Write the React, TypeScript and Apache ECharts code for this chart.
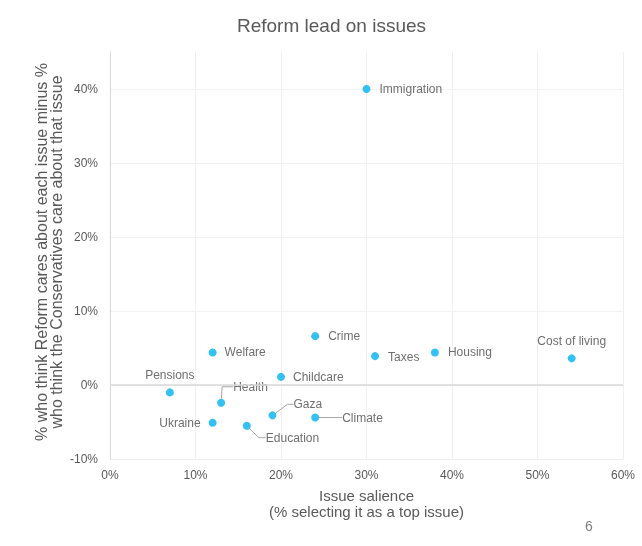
import React, { useEffect, useRef } from "react";
import * as echarts from "echarts";

const title = "Reform lead on issues";
const issues = ["Immigration", "Cost of living", "Housing", "Taxes", "Crime", "Welfare", "Childcare", "Pensions", "Health", "Gaza", "Climate", "Ukraine", "Education"];
const salience = [30, 54, 38, 31, 24, 12, 20, 7, 13, 19, 24, 12, 16];
const lead = [40, 3.6, 4.4, 3.9, 6.6, 4.4, 1.1, -1.0, -2.4, -4.1, -4.4, -5.1, -5.5];
const xTitle = "Issue salience\n(% selecting it as a top issue)";
const yTitle = "% who think Reform cares about each issue minus %\nwho think the Conservatives care about that issue";
const pageNumber = "6";

const FONT = "'Liberation Sans', Arial, sans-serif";

// label placement per issue (style only)
const labelPlace: Record<string, { position: string; distance: number; dx?: number; dy?: number; line?: number }> = {
  Immigration: { position: "right", distance: 9 },
  "Cost of living": { position: "top", distance: 7 },
  Housing: { position: "right", distance: 9 },
  Taxes: { position: "right", distance: 9, dy: 1 },
  Crime: { position: "right", distance: 9 },
  Welfare: { position: "right", distance: 8 },
  Childcare: { position: "right", distance: 8 },
  Pensions: { position: "top", distance: 7 },
  Health: { position: "right", distance: 8, dy: -16, line: 11 },
  Gaza: { position: "right", distance: 8, dx: 9, dy: -11, line: 6 },
  Climate: { position: "right", distance: 8, dx: 15, line: 4 },
  Ukraine: { position: "left", distance: 8 },
  Education: { position: "right", distance: 8, dx: 7, dy: 12, line: 7 },
};

export default function App() {
  const ref = useRef<HTMLDivElement>(null);
  useEffect(() => {
    if (!ref.current) return;
    const chart = echarts.init(ref.current, undefined, { renderer: "svg" });
    const data = issues.map((name, i) => {
      const p = labelPlace[name];
      return {
        name,
        value: [salience[i], lead[i]],
        label: { position: p.position, distance: p.distance },
        labelLine: { show: !!p.line, length2: p.line || 0 },
      };
    });
    chart.setOption({
      animation: false,
      textStyle: { fontFamily: FONT },
      grid: { left: 110, right: 19, top: 52, bottom: 87, containLabel: false },
      xAxis: {
        type: "value",
        min: 0,
        max: 60,
        interval: 10,
        name: xTitle,
        nameLocation: "middle",
        nameGap: 28,
        nameTextStyle: { fontFamily: FONT, fontSize: 15, color: "#595959", lineHeight: 16 },
        axisLine: { show: false },
        axisTick: { show: false },
        axisLabel: { formatter: "{value}%", fontFamily: FONT, fontSize: 12, color: "#595959", margin: 10 },
        splitLine: { show: true, lineStyle: { color: "#f0f0f0", width: 1 } },
      },
      yAxis: {
        type: "value",
        min: -10,
        max: 45,
        interval: 10,
        axisLine: { show: true, onZero: false, lineStyle: { color: "#d9d9d9", width: 1 } },
        axisTick: { show: false },
        axisLabel: { formatter: "{value}%", fontFamily: FONT, fontSize: 12, color: "#595959", margin: 12, showMaxLabel: false },
        splitLine: { show: true, lineStyle: { color: ["#eeeeee", "#eeeeee", "#f2f2f2", "#f2f2f2", "#f2f2f2", "#f2f2f2", "rgba(0,0,0,0)"], width: 1 } },
      },
      series: [
        {
          type: "scatter",
          symbol: "circle",
          symbolSize: 8,
          itemStyle: { color: "#00B0F0" },
          data,
          label: {
            show: true,
            formatter: "{b}",
            fontFamily: FONT,
            fontSize: 12,
            color: "#4a4a4a",
          },
          labelLine: {
            show: false,
            lineStyle: { color: "#a6a6a6", width: 1 },
          },
          labelLayout: (params: any) => {
            const p = labelPlace[issues[params.dataIndex]];
            return { dx: p.dx || 0, dy: p.dy || 0 };
          },
          markLine: {
            silent: true,
            symbol: "none",
            label: { show: false },
            lineStyle: { color: "#d9d9d9", width: 1.5, type: "solid" },
            data: [{ yAxis: 0 }],
          },
        },
      ],
      graphic: [
        {
          type: "text",
          x: 331.5,
          y: 25,
          style: {
            text: title,
            fontFamily: FONT,
            fontSize: 19,
            fill: "#595959",
            textAlign: "center",
            textVerticalAlign: "middle",
          },
        },
        {
          type: "text",
          x: 48.5,
          y: 252,
          rotation: Math.PI / 2,
          style: {
            text: yTitle,
            fontFamily: FONT,
            fontSize: 16,
            lineHeight: 15,
            fill: "#595959",
            textAlign: "center",
            textVerticalAlign: "middle",
          },
        },
        {
          type: "text",
          left: 585,
          top: 519,
          style: { text: pageNumber, fontFamily: FONT, fontSize: 14, fill: "#7f7f7f" },
        },
      ],
    });
    return () => chart.dispose();
  }, []);
  return <div ref={ref} style={{ position: "fixed", left: 0, top: 0, width: 642, height: 546 }} />;
}
